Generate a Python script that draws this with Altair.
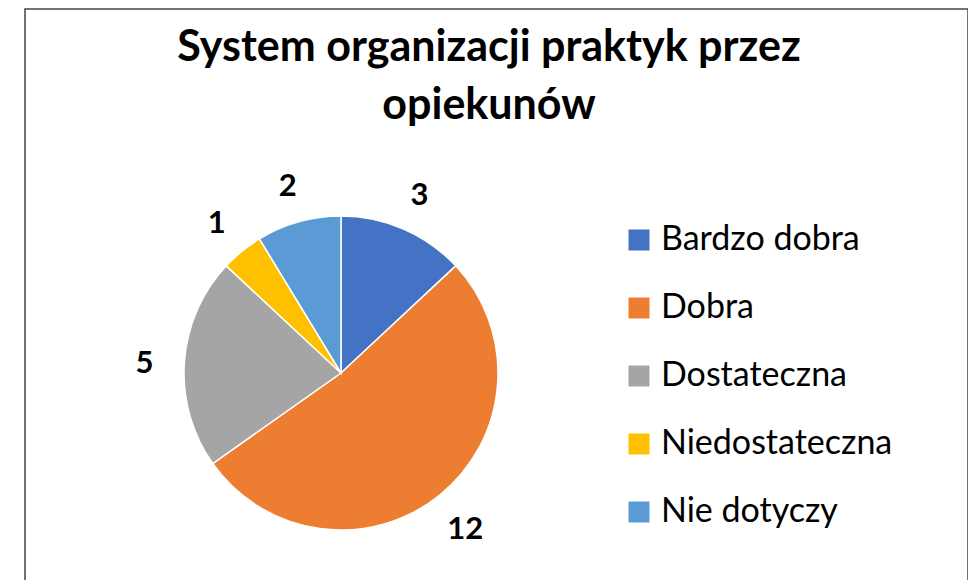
import altair as alt
import pandas as pd

categories = ["Bardzo dobra", "Dobra", "Dostateczna", "Niedostateczna", "Nie dotyczy"]
values = [3, 12, 5, 1, 2]
colors = ["#4472C4", "#ED7D31", "#A5A5A5", "#FFC000", "#5B9BD5"]
title_lines = ["System organizacji praktyk przez", "opiekunów"]

df = pd.DataFrame({"cat": categories, "value": values, "idx": list(range(len(values)))})

W, H = 943, 571
CX, CY = 316, 364
FONT = "Lato"

base = alt.Chart(df).encode(
    theta=alt.Theta("value:Q", stack=True),
    order=alt.Order("idx:Q"),
    x=alt.value(CX),
    y=alt.value(CY),
)

pie = base.mark_arc(outerRadius=157, stroke="white", strokeWidth=1.5).encode(
    color=alt.Color(
        "cat:N",
        scale=alt.Scale(domain=categories, range=colors),
        sort=categories,
        legend=alt.Legend(
            title=None,
            orient="none",
            legendX=597,
            legendY=214,
            symbolType="square",
            symbolSize=441,
            symbolStrokeWidth=0,
            labelFont=FONT,
            labelFontSize=34,
            labelColor="#000000",
            labelOffset=5,
            rowPadding=34,
            labelLimit=400,
        ),
    )
)

labels = base.mark_text(radius=197, dy=4, fontSize=31, fontWeight="bold", font=FONT, color="#000000").encode(
    text="value:Q"
)

border = alt.Chart(pd.DataFrame({"a": [0]})).mark_rect(
    fillOpacity=0, stroke="#444444", strokeWidth=1.5
).encode(x=alt.value(0), x2=alt.value(W), y=alt.value(0), y2=alt.value(H + 40))

title = alt.Chart(pd.DataFrame({"t": [title_lines]})).mark_text(
    font=FONT,
    fontSize=43,
    fontWeight="bold",
    color="#000000",
    align="center",
    baseline="alphabetic",
    lineHeight=58,
).encode(text="t", x=alt.value(464), y=alt.value(52))

chart = alt.layer(border, title, pie, labels).properties(
    width=W,
    height=H,
    padding={"left": 17, "top": 1, "right": 0, "bottom": 0},
    autosize=alt.AutoSizeParams(type="none"),
).configure_view(stroke=None)

chart.save("out.html", embed_options={"renderer": "svg", "actions": False})
